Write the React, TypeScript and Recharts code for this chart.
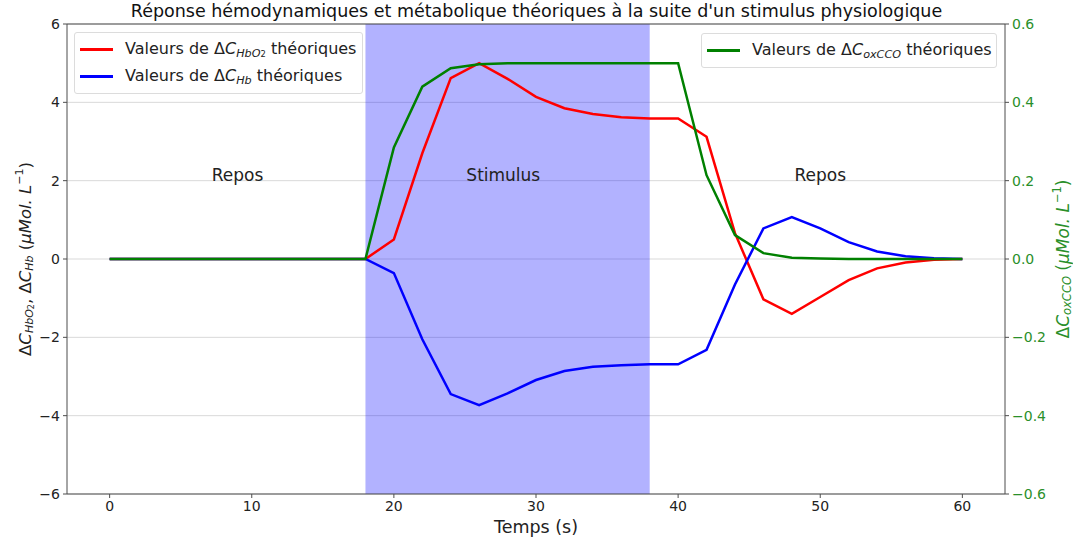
import React from "react";
import {
  LineChart, Line, XAxis, YAxis, CartesianGrid, ReferenceArea, ReferenceLine,
  ReferenceDot, Legend,
} from "recharts";

// time in seconds, one sample every 2 s
const times = [0, 2, 4, 6, 8, 10, 12, 14, 16, 18, 20, 22, 24, 26, 28, 30, 32, 34, 36, 38, 40, 42, 44, 46, 48, 50, 52, 54, 56, 58, 60];
const hbo2 = [0, 0, 0, 0, 0, 0, 0, 0, 0, 0, 0.5, 2.7, 4.62, 5.0, 4.6, 4.14, 3.85, 3.7, 3.62, 3.59, 3.59, 3.12, 0.66, -1.03, -1.4, -0.97, -0.54, -0.24, -0.09, -0.02, 0];
const hb = [0, 0, 0, 0, 0, 0, 0, 0, 0, 0, -0.36, -2.05, -3.45, -3.73, -3.43, -3.09, -2.86, -2.75, -2.71, -2.69, -2.69, -2.32, -0.65, 0.78, 1.07, 0.78, 0.43, 0.19, 0.07, 0.02, 0];
const oxcco = [0, 0, 0, 0, 0, 0, 0, 0, 0, 0, 0.285, 0.44, 0.487, 0.497, 0.5, 0.5, 0.5, 0.5, 0.5, 0.5, 0.5, 0.214, 0.061, 0.015, 0.003, 0.001, 0, 0, 0, 0, 0];

const xTicks = [0, 10, 20, 30, 40, 50, 60];
const leftTicks = [-6, -4, -2, 0, 2, 4, 6];
const rightTicks = [-0.6, -0.4, -0.2, 0, 0.2, 0.4, 0.6];
const stimulus = [18, 38];
const phaseNames = ["Repos", "Stimulus", "Repos"];
const phaseX = [9, 27.7, 50];
const phaseY = 2.15;
const seriesOrder = ["hbo2", "hb", "oxcco"];

const data = times.map((t, i) => ({ t, hbo2: hbo2[i], hb: hb[i], oxcco: oxcco[i] }));

const FONT = "'DejaVu Sans', sans-serif";
const AXIS = "#4d4d4d";
const GREEN_TXT = "#2a8f2a";

const minus = (s: string) => s.replace("-", "\u2212");

const Sub = ({ children }: { children: React.ReactNode }) => (
  <span style={{ fontSize: "70%", verticalAlign: "-0.3em", fontStyle: "italic" }}>{children}</span>
);

const legendLabels: Record<string, React.ReactNode> = {
  hbo2: <>Valeurs de Δ<i>C</i><Sub>HbO<span style={{ fontSize: "75%", fontStyle: "normal" }}>2</span></Sub> théoriques</>,
  hb: <>Valeurs de Δ<i>C</i><Sub>Hb</Sub> théoriques</>,
  oxcco: <>Valeurs de Δ<i>C</i><Sub>oxCCO</Sub> théoriques</>,
};

const boxStyle: React.CSSProperties = {
  position: "absolute",
  background: "rgba(255,255,255,0.85)",
  border: "1px solid #dcdcdc",
  borderRadius: 3,
  padding: "3px 8px 3px 5px",
  fontFamily: FONT,
  fontSize: 16,
  color: "#222",
  whiteSpace: "nowrap",
};

function LegendBoxes(props: any) {
  const payload: any[] = [...(props.payload || [])].sort(
    (a, b) => seriesOrder.indexOf(a.dataKey) - seriesOrder.indexOf(b.dataKey)
  );
  const row = (p: any) => (
    <div key={p.dataKey} style={{ display: "flex", alignItems: "center", height: 27 }}>
      <div style={{ width: 33, height: 2.5, background: p.color, marginRight: 12, flexShrink: 0 }} />
      <span>{legendLabels[p.dataKey]}</span>
    </div>
  );
  const left = payload.filter((p) => p.dataKey !== "oxcco");
  const right = payload.filter((p) => p.dataKey === "oxcco");
  return (
    <div style={{ position: "relative", width: 1073, height: 541 }}>
      <div style={{ ...boxStyle, left: 74, top: 32, width: 274 }}>{left.map(row)}</div>
      <div style={{ ...boxStyle, left: 701, top: 33, width: 281 }}>{right.map(row)}</div>
    </div>
  );
}

function LeftLabel(props: any) {
  const vb = props.viewBox;
  const cx = vb.x + 25;
  const cy = vb.y + vb.height / 2;
  return (
    <text x={cx} y={cy} transform={`rotate(-90 ${cx} ${cy})`} textAnchor="middle"
      fontFamily={FONT} fontSize={16.5} fill="#222" dominantBaseline="central">
      Δ<tspan fontStyle="italic">C</tspan>
      <tspan fontStyle="italic" fontSize={11} dy={4}>HbO</tspan>
      <tspan fontSize={8} dy={2}>2</tspan>
      <tspan dy={-6}>, Δ</tspan><tspan fontStyle="italic">C</tspan>
      <tspan fontStyle="italic" fontSize={11} dy={4}>Hb</tspan>
      <tspan dy={-4}> (</tspan><tspan fontStyle="italic">μMol. L</tspan>
      <tspan fontSize={11} dy={-6}>−1</tspan>
      <tspan dy={6}>)</tspan>
    </text>
  );
}

function RightLabel(props: any) {
  const vb = props.viewBox;
  const cx = vb.x + 58;
  const cy = vb.y + vb.height / 2;
  return (
    <text x={cx} y={cy} transform={`rotate(-90 ${cx} ${cy})`} textAnchor="middle"
      fontFamily={FONT} fontSize={17} fill={GREEN_TXT} dominantBaseline="central">
      Δ<tspan fontStyle="italic">C</tspan>
      <tspan fontStyle="italic" fontSize={11.5} dy={4}>oxCCO</tspan>
      <tspan dy={-4}> (</tspan><tspan fontStyle="italic">μMol. L</tspan>
      <tspan fontSize={11.5} dy={-6}>−1</tspan>
      <tspan dy={6}>)</tspan>
    </text>
  );
}

export default function App() {
  return (
    <div style={{ position: "absolute", left: 0, top: 0, width: 1073, height: 541, background: "#fff", fontFamily: FONT }}>
      <div style={{ position: "absolute", top: 1, left: 0, width: 1073, textAlign: "center", fontSize: 17.5, color: "#111" }}>
        Réponse hémodynamiques et métabolique théoriques à la suite d'un stimulus physiologique
      </div>
      <LineChart width={1073} height={541} data={data} margin={{ top: 24, right: 0, bottom: 0, left: 0 }}>
        <CartesianGrid yAxisId="left" vertical={false} stroke="#d9d9d9" strokeWidth={1} />
        <XAxis
          dataKey="t" type="number" domain={[-3, 63]} ticks={xTicks} height={47}
          tick={{ fontSize: 14, fill: "#222", fontFamily: FONT }}
          axisLine={{ stroke: AXIS }} tickLine={{ stroke: AXIS }} tickSize={4} tickMargin={3}
          label={{ value: "Temps (s)", position: "insideBottom", offset: 8, fontSize: 17.5, fill: "#222", fontFamily: FONT }}
        />
        <YAxis
          yAxisId="left" domain={[-6, 6]} ticks={leftTicks} width={67} interval={0}
          tickFormatter={(v) => minus(String(v))}
          tick={{ fontSize: 14, fill: "#222", fontFamily: FONT }}
          axisLine={{ stroke: AXIS }} tickLine={{ stroke: AXIS }} tickSize={4} tickMargin={3}
          label={{ content: LeftLabel }}
        />
        <YAxis
          yAxisId="right" orientation="right" domain={[-0.6, 0.6]} ticks={rightTicks} width={68} interval={0}
          tickFormatter={(v) => minus(Number(v).toFixed(1))}
          tick={{ fontSize: 14, fill: GREEN_TXT, fontFamily: FONT }}
          axisLine={{ stroke: AXIS }} tickLine={{ stroke: AXIS }} tickSize={4} tickMargin={3}
          label={{ content: RightLabel }}
        />
        <ReferenceArea yAxisId="left" x1={stimulus[0]} x2={stimulus[1]} fill="#0000ff" fillOpacity={0.3} stroke="none" />
        <ReferenceLine yAxisId="left" y={6} stroke={AXIS} />
        {phaseNames.map((name, i) => (
          <ReferenceDot key={i} yAxisId="left" x={phaseX[i]} y={phaseY} r={1} fill="none" stroke="none"
            label={{ value: name, position: "center", fontSize: 17, fill: "#222", fontFamily: FONT }} />
        ))}
        <Line yAxisId="left" type="linear" dataKey="hbo2" stroke="#ff0000" strokeWidth={2.5} dot={false} isAnimationActive={false} />
        <Line yAxisId="left" type="linear" dataKey="hb" stroke="#0000ff" strokeWidth={2.5} dot={false} isAnimationActive={false} />
        <Line yAxisId="right" type="linear" dataKey="oxcco" stroke="#008000" strokeWidth={2.5} dot={false} isAnimationActive={false} />
        <Legend layout="horizontal" verticalAlign="middle" align="center" content={LegendBoxes}
          wrapperStyle={{ position: "absolute", left: 0, top: 0, width: 1073, height: 541, pointerEvents: "none" }} />
      </LineChart>
    </div>
  );
}
